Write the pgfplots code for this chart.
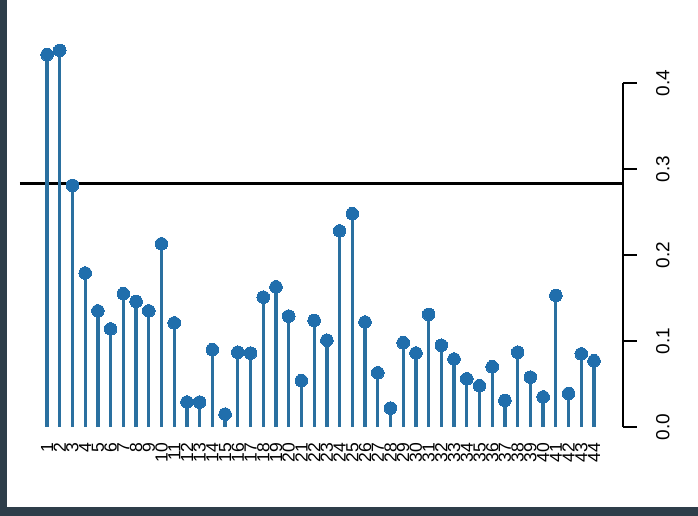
\documentclass[border=0pt]{standalone}
\usepackage{pgfplots}
\pgfplotsset{compat=1.18}
\usepackage{fontspec}
\setmainfont{Liberation Sans}
\definecolor{frame}{RGB}{46,62,74}
\definecolor{stem}{RGB}{42,112,160}
\definecolor{dot}{RGB}{32,110,172}
\begin{document}
\begin{tikzpicture}[x=1pt,y=1pt]
\useasboundingbox (0,0) rectangle (698,516);
\fill[frame] (0,0) rectangle (698,516);
\fill[white] (7,9) rectangle (698,516);
\begin{axis}[
  at={(20pt,80.4pt)}, anchor=south west,
  scale only axis, width=603pt, height=395.6pt,
  xmin=-1.125, xmax=46.28, ymin=-0.01, ymax=0.45,
  axis line style={draw=none},
  clip=false,
  xtick={1,...,44},
  xtick style={draw=none},
  ytick={0,0.1,0.2,0.3,0.4},
  yticklabels={0.0,0.1,0.2,0.3,0.4},
  ytick style={draw=none},
  yticklabel pos=right,
  /pgf/number format/assume math mode=true,
  xticklabel style={rotate=90, anchor=east, inner xsep=7pt, inner ysep=0pt, font=\fontsize{17.5}{17.5}\selectfont},
  yticklabel style={rotate=90, anchor=north, inner ysep=33pt, inner xsep=0pt, font=\fontsize{19}{19}\selectfont},
]
\addplot[black, line width=3pt, forget plot] coordinates {(-1.125,0.2826) (46.28,0.2826)};
\draw[line width=1.3pt, black] (axis cs:46.28,0) -- (axis cs:46.28,0.4);
\draw[line width=1.3pt, black] (axis cs:46.28,0) -- ([xshift=14pt]axis cs:46.28,0);
\draw[line width=1.3pt, black] (axis cs:46.28,0.1) -- ([xshift=14pt]axis cs:46.28,0.1);
\draw[line width=1.3pt, black] (axis cs:46.28,0.2) -- ([xshift=14pt]axis cs:46.28,0.2);
\draw[line width=1.3pt, black] (axis cs:46.28,0.3) -- ([xshift=14pt]axis cs:46.28,0.3);
\draw[line width=1.3pt, black] (axis cs:46.28,0.4) -- ([xshift=14pt]axis cs:46.28,0.4);
\addplot[ycomb, stem, line width=3.3pt, mark=*, mark size=6.3pt, mark options={fill=dot, draw=dot, line width=0pt}] coordinates {
(1,0.433) (2,0.438) (3,0.281) (4,0.179) (5,0.135) (6,0.114) (7,0.155) (8,0.146) (9,0.135) (10,0.213)
(11,0.121) (12,0.029) (13,0.029) (14,0.090) (15,0.015) (16,0.087) (17,0.086) (18,0.151) (19,0.163) (20,0.129)
(21,0.054) (22,0.124) (23,0.101) (24,0.228) (25,0.248) (26,0.122) (27,0.063) (28,0.022) (29,0.098) (30,0.086)
(31,0.131) (32,0.095) (33,0.079) (34,0.056) (35,0.048) (36,0.070) (37,0.031) (38,0.087) (39,0.058) (40,0.035)
(41,0.153) (42,0.039) (43,0.085) (44,0.077)
};
\end{axis}
\end{tikzpicture}
\end{document}
